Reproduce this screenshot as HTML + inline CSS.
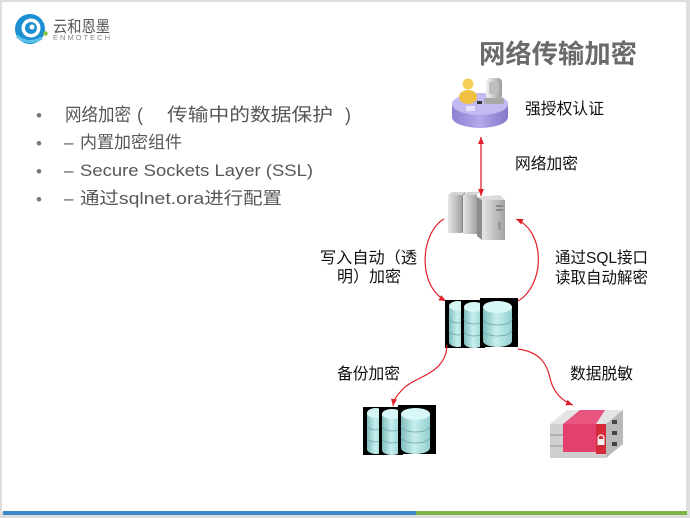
<!DOCTYPE html>
<html>
<head>
<meta charset="utf-8">
<style>
  html,body{margin:0;padding:0;background:#dedede;}
  body{width:690px;height:518px;overflow:hidden;}
  svg{display:block;}
  .cjk{font-family:"Liberation Sans","Noto Sans CJK SC",sans-serif;}
</style>
</head>
<body>
<svg width="690" height="518" viewBox="0 0 690 518" xmlns="http://www.w3.org/2000/svg">
  <defs>
    <marker id="ah" markerWidth="8" markerHeight="8" refX="7" refY="3" orient="auto-start-reverse" markerUnits="userSpaceOnUse">
      <path d="M0,0 L7,3 L0,6 z" fill="#e0202a"/>
    </marker>
    <linearGradient id="cyl" x1="0" x2="1" y1="0" y2="0">
      <stop offset="0" stop-color="#7fbcbd"/>
      <stop offset="0.45" stop-color="#c6eeee"/>
      <stop offset="1" stop-color="#94cfd0"/>
    </linearGradient>
    <linearGradient id="srv" x1="0" x2="1" y1="0" y2="0">
      <stop offset="0" stop-color="#e6e6e6"/>
      <stop offset="1" stop-color="#a2a2a2"/>
    </linearGradient>
    <linearGradient id="disk" x1="0" x2="1" y1="0" y2="0">
      <stop offset="0" stop-color="#8e80d2"/>
      <stop offset="0.5" stop-color="#b4a9ea"/>
      <stop offset="1" stop-color="#8576c8"/>
    </linearGradient>
    <linearGradient id="mon" x1="0" x2="1" y1="0" y2="0">
      <stop offset="0" stop-color="#f4f4f4"/>
      <stop offset="1" stop-color="#9c9c9c"/>
    </linearGradient>
    <g id="db">
      <rect x="445" y="300" width="40" height="48" fill="#000"/>
      <path d="M449,306 L449,342 A9,5 0 0 0 467,342 L467,306 Z" fill="url(#cyl)"/>
      <ellipse cx="458" cy="306" rx="9" ry="5" fill="#d6f6f6"/>
      <path d="M449,318 A9,5 0 0 0 467,318 M449,330 A9,5 0 0 0 467,330" fill="none" stroke="#6ea6a7" stroke-width="0.8"/>
      <rect x="461" y="301" width="22" height="47" fill="#000"/>
      <path d="M464,307 L464,343 A10,5 0 0 0 484,343 L484,307 Z" fill="url(#cyl)"/>
      <ellipse cx="474" cy="307" rx="10" ry="5" fill="#d6f6f6"/>
      <path d="M464,319 A10,5 0 0 0 484,319 M464,331 A10,5 0 0 0 484,331" fill="none" stroke="#6ea6a7" stroke-width="0.8"/>
      <rect x="480" y="298" width="38" height="49" fill="#000"/>
      <path d="M483,307 L483,341 A14.5,6 0 0 0 512,341 L512,307 Z" fill="url(#cyl)"/>
      <ellipse cx="497.5" cy="307" rx="14.5" ry="6" fill="#d8f8f8"/>
      <path d="M483,319 A14.5,6 0 0 0 512,319 M483,330 A14.5,6 0 0 0 512,330" fill="none" stroke="#6ea6a7" stroke-width="0.8"/>
    </g>
  </defs>

  <!-- frame -->
  <rect x="0" y="0" width="690" height="518" fill="#dedede"/>
  <rect x="2" y="2" width="684" height="510" fill="#ffffff"/>
  <rect x="3" y="511" width="413" height="4" fill="#3b88c8"/>
  <rect x="416" y="511" width="271" height="4" fill="#7cb544"/>

  <!-- logo -->
  <circle cx="30" cy="29" r="15" fill="#1b8fd2"/>
  <circle cx="31" cy="28" r="9.5" fill="#ffffff"/>
  <circle cx="31" cy="28" r="6" fill="#1b8fd2"/>
  <circle cx="32" cy="27" r="2.5" fill="#ffffff"/>
  <path d="M17,36 Q28,46 42,38" fill="none" stroke="#5cc0e8" stroke-width="3"/>
  <circle cx="45.5" cy="33.5" r="2.3" fill="#8cc63f"/>
  <text x="53" y="32" class="cjk" font-size="16" fill="#555" textLength="57" lengthAdjust="spacingAndGlyphs">云和恩墨</text>
  <text x="53" y="40" font-family="Liberation Sans, sans-serif" font-size="7.5" fill="#888" textLength="57" lengthAdjust="spacing">ENMOTECH</text>

  <!-- title -->
  <text x="479" y="63" class="cjk" font-size="26" font-weight="bold" fill="#6a6a6a" textLength="158" lengthAdjust="spacingAndGlyphs">网络传输加密</text>

  <!-- bullets -->
  <g class="cjk" fill="#575757">
    <text x="36" y="121" font-size="17" fill="#777">•</text>
    <text x="36" y="149" font-size="17" fill="#777">•</text>
    <text x="36" y="177" font-size="17" fill="#777">•</text>
    <text x="36" y="205" font-size="17" fill="#777">•</text>

    <text x="65" y="121" font-size="18" textLength="66" lengthAdjust="spacingAndGlyphs">网络加密</text>
    <text x="137" y="121" font-size="18">(</text>
    <text x="167" y="121" font-size="18" textLength="166" lengthAdjust="spacingAndGlyphs">传输中的数据保护</text>
    <text x="345" y="121" font-size="18">)</text>

    <text x="64" y="148" font-size="17">–</text>
    <text x="80" y="148" font-size="17" textLength="102" lengthAdjust="spacingAndGlyphs">内置加密组件</text>

    <text x="64" y="176" font-size="17">–</text>
    <text x="80" y="176" font-size="17" textLength="233" lengthAdjust="spacingAndGlyphs">Secure Sockets Layer (SSL)</text>

    <text x="64" y="204" font-size="17">–</text>
    <text x="80" y="204" font-size="17" textLength="202" lengthAdjust="spacingAndGlyphs">通过sqlnet.ora进行配置</text>
  </g>

  <!-- user disk icon -->
  <path d="M452,104 L452,117 A28,11 0 0 0 508,117 L508,104 Z" fill="url(#disk)"/>
  <ellipse cx="480" cy="104" rx="28" ry="11" fill="#c2baf0"/>
  <ellipse cx="468" cy="97" rx="9" ry="7" fill="#f0c040"/>
  <circle cx="468" cy="84" r="5.5" fill="#f5cf55"/>
  <rect x="486" y="78" width="16" height="21" rx="4" fill="url(#mon)"/>
  <rect x="489" y="82" width="10" height="12" rx="2" fill="#bdbdbd"/>
  <rect x="484" y="98" width="20" height="6" rx="2" fill="#a9a9a9"/>
  <rect x="477" y="101" width="5" height="3" fill="#333"/>
  <rect x="466" y="106" width="9" height="5" fill="#eef" opacity="0.8"/>

  <text x="525" y="114" class="cjk" font-size="16" fill="#111" textLength="79" lengthAdjust="spacingAndGlyphs">强授权认证</text>
  <text x="515" y="169" class="cjk" font-size="16" fill="#111" textLength="63" lengthAdjust="spacingAndGlyphs">网络加密</text>

  <!-- vertical arrow -->
  <line x1="481" y1="137" x2="481" y2="196" stroke="#e0202a" stroke-width="1.3" marker-start="url(#ah)" marker-end="url(#ah)"/>

  <!-- server towers -->
  <polygon points="448,195 452,192 465,192 461,195" fill="#d4d4d4"/>
  <rect x="448" y="195" width="14" height="38" fill="url(#srv)"/>
  <polygon points="462,195 465,192 465,231 462,233" fill="#8a8a8a"/>
  <polygon points="463,195 467,192 480,192 476,195" fill="#d4d4d4"/>
  <rect x="463" y="195" width="14" height="39" fill="url(#srv)"/>
  <polygon points="477,197 482,200 482,240 477,236" fill="#8c8c8c"/>
  <polygon points="477,197 500,195 505,200 482,200" fill="#dadada"/>
  <rect x="482" y="200" width="23" height="40" fill="url(#srv)"/>
  <rect x="496" y="205" width="7" height="2" fill="#888"/>
  <rect x="496" y="209" width="7" height="2" fill="#888"/>
  <rect x="498" y="222" width="3" height="8" fill="#999"/>

  <!-- curves between server and db -->
  <path d="M444,219 C421,232 416,285 446,301" fill="none" stroke="#e0202a" stroke-width="1.2" marker-end="url(#ah)"/>
  <path d="M518,301 C545,285 546,232 516,219" fill="none" stroke="#e0202a" stroke-width="1.2" marker-end="url(#ah)"/>

  <g class="cjk" font-size="16" fill="#111">
    <text x="320" y="263" textLength="97" lengthAdjust="spacingAndGlyphs">写入自动（透</text>
    <text x="337" y="282" textLength="64" lengthAdjust="spacingAndGlyphs">明）加密</text>
    <text x="555" y="263" textLength="93" lengthAdjust="spacingAndGlyphs">通过SQL接口</text>
    <text x="555" y="283" textLength="93" lengthAdjust="spacingAndGlyphs">读取自动解密</text>
    <text x="337" y="379" textLength="63" lengthAdjust="spacingAndGlyphs">备份加密</text>
    <text x="570" y="379" textLength="63" lengthAdjust="spacingAndGlyphs">数据脱敏</text>
  </g>

  <!-- db main -->
  <use href="#db"/>
  <!-- db backup -->
  <use href="#db" transform="translate(-82,107)"/>

  <!-- lower arrows -->
  <path d="M447,345 C446,374 416,376 404,388 C397,395 394,399 393,406" fill="none" stroke="#e0202a" stroke-width="1.2" marker-end="url(#ah)"/>
  <path d="M518,349 C540,352 547,364 550,378 C553,392 562,401 573,405" fill="none" stroke="#e0202a" stroke-width="1.2" marker-end="url(#ah)"/>

  <!-- masking server -->
  <polygon points="550,424 567,410 623,410 606,424" fill="#e4e4e4"/>
  <rect x="550" y="424" width="56" height="34" fill="#cfcfcf"/>
  <line x1="550" y1="435" x2="606" y2="435" stroke="#8f8f8f" stroke-width="1"/>
  <line x1="550" y1="446" x2="606" y2="446" stroke="#8f8f8f" stroke-width="1"/>
  <polygon points="606,424 623,410 623,444 606,458" fill="#b9b9b9"/>
  <rect x="612" y="420" width="5" height="4" fill="#444"/>
  <rect x="612" y="431" width="5" height="4" fill="#444"/>
  <rect x="612" y="442" width="5" height="4" fill="#444"/>
  <polygon points="563,424 580,410 605,410 596,424" fill="#e8557e"/>
  <rect x="563" y="424" width="33" height="28" fill="#e4406d"/>
  <rect x="596" y="424" width="10" height="30" fill="#d42a3a"/>
  <circle cx="601" cy="438" r="3" fill="none" stroke="#fff" stroke-width="1.2"/>
  <rect x="597.5" y="439" width="7" height="6" fill="#f2f2f2"/>
</svg>
</body>
</html>
